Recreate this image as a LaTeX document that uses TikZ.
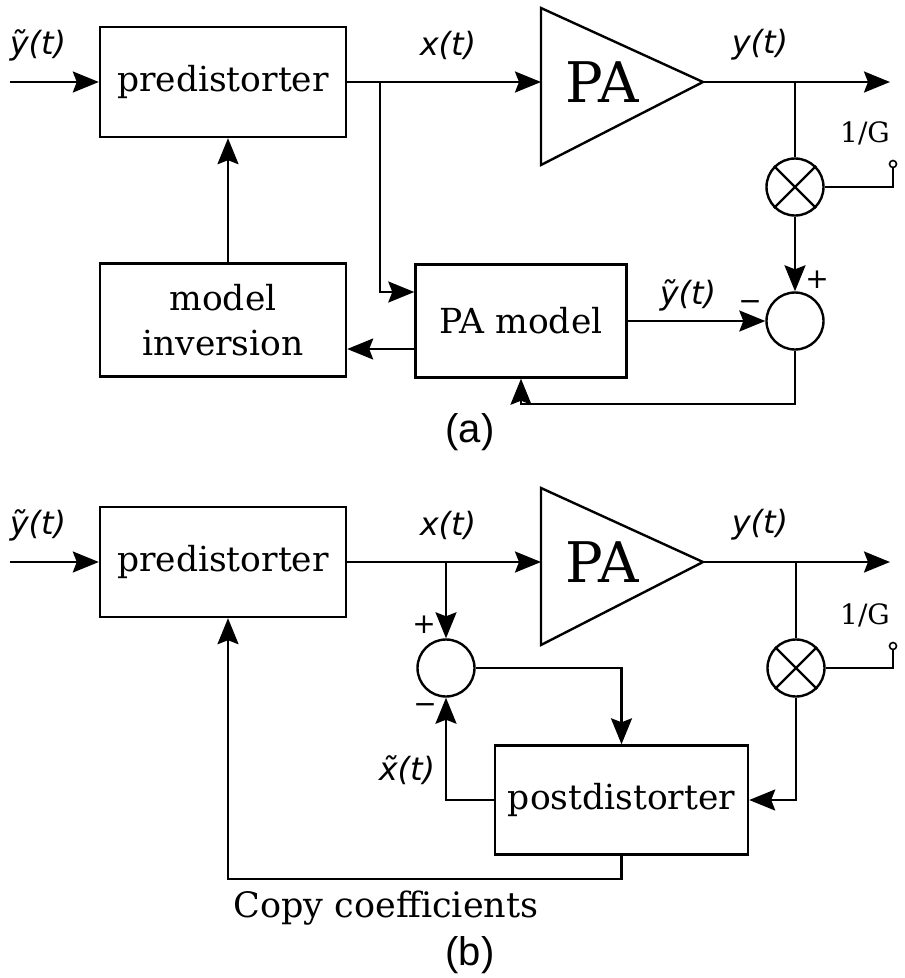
\documentclass[tikz,border=0pt]{standalone}
\usepackage{fontspec}
\setmainfont{DejaVu Serif}
\newfontfamily\sigfont{DejaVu Sans}
\newfontfamily\capfont{Liberation Sans}
\usetikzlibrary{arrows.meta}

\tikzset{
    blockbox/.style={draw, line width=2.4pt, inner sep=0pt, align=center,
        font=\fontsize{34.5}{45}\selectfont},
    junction/.style={draw, circle, line width=2.4pt, minimum size=57pt, inner sep=0pt},
    terminal/.style={draw, circle, line width=1.6pt, minimum size=7pt, inner sep=0pt},
    siglabel/.style={font=\sigfont\itshape\fontsize{32}{36}\selectfont, inner sep=0pt},
    signlabel/.style={font=\sigfont\fontsize{28}{30}\selectfont, inner sep=0pt},
    gainlabel/.style={font=\fontsize{28}{30}\selectfont, inner sep=0pt},
    partlabel/.style={font=\capfont\fontsize{40}{44}\selectfont, inner sep=0pt},
}

\begin{document}
\begin{tikzpicture}[x=1pt, y=-1pt, line width=2.4pt, line join=miter,
    >={Stealth[length=26pt, width=21pt, inset=4pt]}]
    \useasboundingbox (0,0) rectangle (905,978);

    % ---------- (a) ----------
    \node[blockbox, minimum width=246pt, minimum height=110pt] (preA) at (223,82) {predistorter};
    \node[blockbox, minimum width=246pt, minimum height=113pt] (inv) at (223,320) {model\\inversion};
    \node[blockbox, minimum width=211pt, minimum height=113pt] (pam) at (521,321) {PA model};
    \node[junction] (sumA) at (795,321) {};
    \node[junction] (mulA) at (795,187) {};
    \draw (mulA.north west) -- (mulA.south east) (mulA.north east) -- (mulA.south west);
    \node[terminal] (termA) at (893,164) {};

    % PA triangle
    \draw (541,8) -- (703,82) coordinate (paOutA) -- (541,165) -- cycle;
    \node[font=\fontsize{56}{60}\selectfont] (paA) at (602,82) {PA};
    \coordinate (paInA) at (541,82);

    \coordinate (inA) at (10,82);
    \coordinate (outA) at (890,82);
    \coordinate (brA) at (380,82);
    \coordinate (tapA) at (795,82);

    \draw[->] (inA) -- (preA.west);
    \draw[->] (preA.east) -- (paInA);
    \draw[->] (paOutA) -- (outA);
    \draw[->] (brA) |- (pam.west |- 0,292);
    \draw (tapA) -- (mulA.north);
    \draw (mulA.east) -| (termA.south);
    \draw[->] (mulA.south) -- (sumA.north);
    \draw[->] (pam.east) -- (sumA.west);
    \draw[->] (sumA.south) |- (pam.south |- 0,404) -- (pam.south);
    \draw[->] (pam.west |- 0,349) -- (inv.east |- 0,349);
    \draw[->] ([xshift=5pt]inv.north) -- ([xshift=5pt]preA.south);

    \node[siglabel] (yinA) at (38,45) {ỹ(t)};
    \node[siglabel] (xA) at (448,45) {x(t)};
    \node[siglabel] (yA) at (760,45) {y(t)};
    \node[siglabel] (ymA) at (688,295) {ỹ(t)};
    \node[gainlabel] (gA) at (865,133) {1/G};
    \node[signlabel] (plusA) at (817,280) {+};
    \node[signlabel] (minusA) at (750,306) {−};
    \node[partlabel] (capA) at (470,432) {(a)};

    % ---------- (b) ----------
    \node[blockbox, minimum width=246pt, minimum height=110pt] (preB) at (223,562) {predistorter};
    \node[blockbox, minimum width=253pt, minimum height=109pt] (post) at (621.5,800) {postdistorter};
    \node[junction] (sumB) at (446,668) {};
    \node[junction] (mulB) at (796,668) {};
    \draw (mulB.north west) -- (mulB.south east) (mulB.north east) -- (mulB.south west);
    \node[terminal] (termB) at (893,646) {};

    % PA triangle
    \draw (541,488) -- (703,562) coordinate (paOutB) -- (541,645) -- cycle;
    \node[font=\fontsize{56}{60}\selectfont] (paB) at (602,562) {PA};
    \coordinate (paInB) at (541,562);

    \coordinate (inB) at (10,562);
    \coordinate (outB) at (890,562);
    \coordinate (brB) at (446,562);
    \coordinate (tapB) at (796,562);
    \coordinate (copy) at (621.5,879);

    \draw[->] (inB) -- (preB.west);
    \draw[->] (preB.east) -- (paInB);
    \draw[->] (paOutB) -- (outB);
    \draw[->] (brB) -- (sumB.north);
    \draw[->] (sumB.east) -| (post.north);
    \draw[->] (post.west) -| (sumB.south);
    \draw (tapB) -- (mulB.north);
    \draw (mulB.east) -| (termB.south);
    \draw[->] (mulB.south) |- (post.east);
    \draw[->] (post.south) -- (copy) -| ([xshift=5pt]preB.south);

    \node[siglabel] (yinB) at (38,525) {ỹ(t)};
    \node[siglabel] (xB) at (448,525) {x(t)};
    \node[siglabel] (yB) at (760,525) {y(t)};
    \node[siglabel] (xmB) at (407,770) {x̃(t)};
    \node[gainlabel] (gB) at (865,615) {1/G};
    \node[signlabel] (plusB) at (424,625) {+};
    \node[signlabel] (minusB) at (425,709) {−};
    \node[font=\fontsize{35}{38}\selectfont, inner sep=0pt] (copyText) at (386,908) {Copy coefficients};
    \node[partlabel] (capB) at (470,955) {(b)};
\end{tikzpicture}
\end{document}
